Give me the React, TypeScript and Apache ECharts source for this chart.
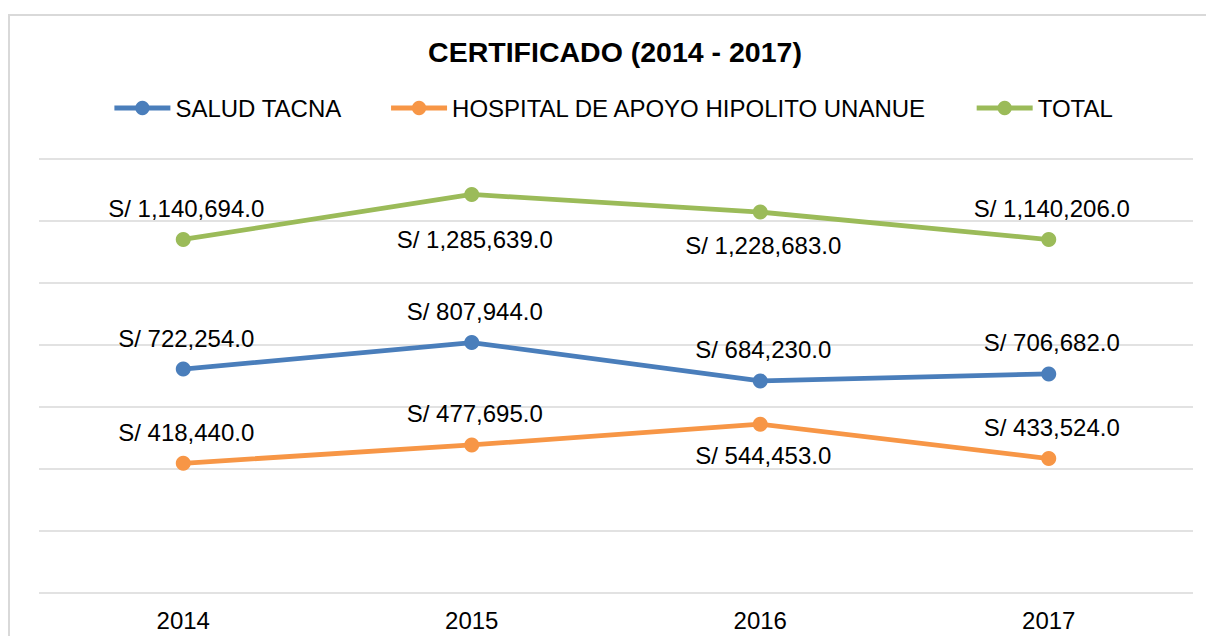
import React, { useEffect, useRef } from "react";
import * as echarts from "echarts";

const categories = ["2014", "2015", "2016", "2017"];
const saludTacna = [722254, 807944, 684230, 706682];
const hospital = [418440, 477695, 544453, 433524];
const total = [1140694, 1285639, 1228683, 1140206];
const seriesNames = ["SALUD TACNA", "HOSPITAL DE APOYO HIPOLITO UNANUE", "TOTAL"];
const colors = ["#4A7EBB", "#F79646", "#9BBB59"];
// label vertical offsets (px) relative to point: negative = above
const saludOffsets = [-31, -31, -31, -31];
const hospitalOffsets = [-31, -31, 31, -31];
const totalOffsets = [-31, 45, 33, -31];

const FONT = "'Liberation Sans', Arial, sans-serif";

const fmt = (v: number) =>
  "S/ " + v.toLocaleString("en-US", { minimumFractionDigits: 1, maximumFractionDigits: 1 });

function makeSeries(name: string, values: number[], offsets: number[], color: string) {
  return {
    name,
    type: "line",
    data: values.map((v, i) => ({
      value: v,
      label: { offset: [3, offsets[i]] },
    })),
    symbol: "circle",
    symbolSize: 15,
    lineStyle: { width: 4.8, color },
    itemStyle: { color },
    label: {
      show: true,
      position: "inside",
      color: "#000",
      fontSize: 24,
      fontFamily: FONT,
      textBorderWidth: 0,
      formatter: (p: any) => fmt(p.value),
    },
    emphasis: { disabled: true },
    z: 3,
  };
}

export default function App() {
  const ref = useRef<HTMLDivElement>(null);
  useEffect(() => {
    if (!ref.current) return;
    const chart = echarts.init(ref.current, undefined, { renderer: "svg" });
    chart.setOption({
      animation: false,
      backgroundColor: "#ffffff",
      textStyle: { fontFamily: FONT },
      graphic: [
        {
          type: "rect",
          shape: { x: 9, y: 15, width: 1400, height: 800 },
          style: { fill: "none", stroke: "#d9d9d9", lineWidth: 2 },
          silent: true,
          z: -1,
        },
      ],
      title: {
        text: "CERTIFICADO (2014 - 2017)",
        left: 615,
        textAlign: "center",
        top: 37,
        padding: 0,
        textStyle: { fontSize: 28.5, fontWeight: "bold", color: "#000", fontFamily: FONT },
      },
      legend: {
        data: seriesNames,
        left: 112,
        top: 96,
        padding: 0,
        itemWidth: 56,
        itemHeight: 18,
        itemGap: 47,
        lineStyle: { width: 4.8 },
        textStyle: { fontSize: 24, color: "#000", fontFamily: FONT },
      },
      grid: { left: 39, right: 13, top: 159, bottom: 43, containLabel: false },
      xAxis: {
        type: "category",
        data: categories,
        boundaryGap: true,
        axisLine: { show: false },
        axisTick: { show: false },
        axisLabel: { fontSize: 24, color: "#000", margin: 15, fontFamily: FONT },
      },
      yAxis: {
        type: "value",
        min: 0,
        max: 1400000,
        interval: 200000,
        axisLabel: { show: false },
        axisLine: { show: false },
        axisTick: { show: false },
        splitLine: { lineStyle: { color: "#d9d9d9", width: 1.5 } },
      },
      series: [
        makeSeries(seriesNames[0], saludTacna, saludOffsets, colors[0]),
        makeSeries(seriesNames[1], hospital, hospitalOffsets, colors[1]),
        makeSeries(seriesNames[2], total, totalOffsets, colors[2]),
      ],
    });
    return () => chart.dispose();
  }, []);
  return (
    <div
      ref={ref}
      style={{ position: "absolute", left: 0, top: 0, width: 1206, height: 636 }}
    />
  );
}
